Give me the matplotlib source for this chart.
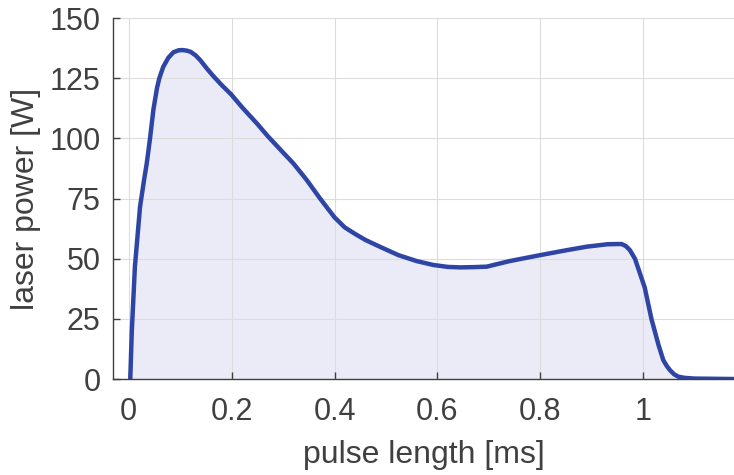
import matplotlib
matplotlib.use("Agg")
import matplotlib.pyplot as plt

# data
pulse_ms = [0.003, 0.006, 0.012, 0.022, 0.030, 0.035, 0.041, 0.048, 0.055, 0.0595,
            0.067, 0.077, 0.087, 0.097, 0.104, 0.112, 0.12, 0.13, 0.139, 0.152,
            0.164, 0.180, 0.199, 0.22, 0.25, 0.27, 0.294, 0.32, 0.346, 0.372,
            0.40, 0.42, 0.44, 0.46, 0.488, 0.524, 0.56, 0.592, 0.62, 0.644, 0.67,
            0.696, 0.74, 0.80, 0.85, 0.89, 0.93, 0.950, 0.958, 0.966, 0.974,
            0.984, 1.003, 1.016, 1.03, 1.039, 1.046, 1.052, 1.06, 1.068, 1.08,
            1.10, 1.18]
power_w = [0, 20, 46.7, 71.6, 83, 89.6, 99.3, 112, 121, 125,
           129.7, 133.5, 135.8, 136.6, 136.7, 136.5, 136, 134.5, 132.5, 129,
           126, 122.3, 118.3, 113, 106, 101, 95.5, 89.6, 82.7, 75,
           67.2, 63, 60.3, 57.8, 55, 51.5, 49, 47.4, 46.6, 46.4, 46.5,
           46.7, 49, 51.5, 53.5, 55, 56, 56.1, 56.1, 55.3, 53.6,
           50, 38, 25, 14, 7.9, 5.4, 3.7, 2.0, 1.0, 0.5,
           0.2, 0]
xticks = [0, 0.2, 0.4, 0.6, 0.8, 1.0]
xticklabels = ["0", "0.2", "0.4", "0.6", "0.8", "1"]
yticks = [0, 25, 50, 75, 100, 125, 150]

plt.rcParams['font.family'] = ['Liberation Sans', 'DejaVu Sans']
txt = '#404040'

fig = plt.figure(figsize=(7.34, 4.75), dpi=100)
ax = fig.add_axes([0.154, 0.202, 0.846, 0.760])

ax.fill_between(pulse_ms, power_w, 0, color=(0.92, 0.92, 0.97), zorder=1, lw=0)
ax.plot(pulse_ms, power_w, color='#2E45A5', lw=3.2, zorder=3,
        solid_joinstyle='round', solid_capstyle='round')

ax.set_xlim(-0.0305, 1.1765)
ax.set_ylim(0, 150)
ax.set_xticks(xticks)
ax.set_xticklabels(xticklabels)
ax.set_yticks(yticks)
ax.grid(True, color='#dcdcdc', lw=0.8, zorder=2)
ax.set_axisbelow(False)
for s in ['top', 'right']:
    ax.spines[s].set_visible(False)
for s in ['left', 'bottom']:
    ax.spines[s].set_color('#404040')
    ax.spines[s].set_linewidth(1.0)
    ax.spines[s].set_zorder(4)
ax.tick_params(direction='in', length=5, width=1, colors='#404040',
               labelsize=22, labelcolor=txt)
ax.tick_params(axis='x', pad=13)
ax.tick_params(axis='y', pad=9)
ax.set_xlabel('pulse length [ms]', fontsize=23, color=txt, labelpad=9)
ax.set_ylabel('laser power [W]', fontsize=23, color=txt, labelpad=6)

fig.savefig('out.png', dpi=100)
